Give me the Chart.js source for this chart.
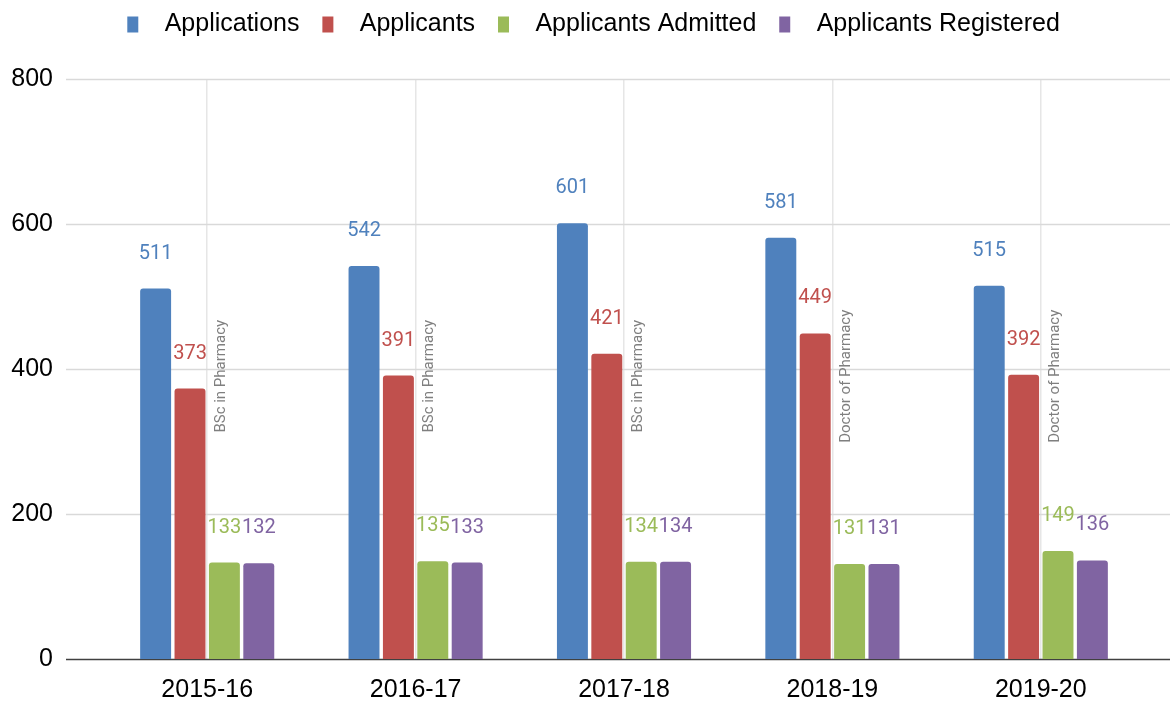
<!DOCTYPE html>
<html>
<head>
<meta charset="utf-8">
<script src="https://cdn.jsdelivr.net/npm/chart.js@4/dist/chart.umd.min.js"></script>
<style>
  html, body { margin: 0; padding: 0; background: #fff; }
  #wrap { width: 1170px; height: 701px; }
</style>
</head>
<body>
<div id="wrap"><canvas id="graficoAdmissoes"></canvas></div>
<script>
// Dados
const anos = ['2015-16', '2016-17', '2017-18', '2018-19', '2019-20'];
const programas = ['BSc in Pharmacy', 'BSc in Pharmacy', 'BSc in Pharmacy', 'Doctor of Pharmacy', 'Doctor of Pharmacy'];
const applications = [511, 542, 601, 581, 515];
const applicants = [373, 391, 421, 449, 392];
const admitted = [133, 135, 134, 131, 149];
const registered = [132, 133, 134, 131, 136];
const yTicks = [0, 200, 400, 600, 800];

const cores = ['#4F81BD', '#C0504D', '#9BBB59', '#8064A2'];

// Linhas horizontais que passam da área do gráfico, eixo zero e rótulos
const extras = {
  id: 'extras',
  beforeLayout(chart) {
    // mais espaço entre a legenda e a área do gráfico
    const lg = chart.legend;
    if (lg && !lg._espaco) {
      const fitOriginal = lg.fit.bind(lg);
      lg.fit = function () { fitOriginal(); this.height += 32; };
      lg._espaco = true;
    }
  },
  afterLayout(chart) {
    // legenda um pouco para a direita, como no original
    chart.legend.left += 28;
    chart.legend.right += 28;
  },
  beforeDatasetsDraw(chart) {
    const ctx = chart.ctx;
    const y = chart.scales.y;
    ctx.save();
    yTicks.forEach(v => {
      const py = Math.round(y.getPixelForValue(v)) + 0.5;
      ctx.strokeStyle = v === 0 ? '#404040' : '#d9d9d9';
      ctx.lineWidth = 1.5;
      ctx.beginPath();
      ctx.moveTo(66, py);
      ctx.lineTo(chart.width, py);
      ctx.stroke();
    });
    ctx.restore();
  },
  afterDatasetsDraw(chart) {
    const ctx = chart.ctx;
    const x = chart.scales.x;
    const y = chart.scales.y;
    ctx.save();
    // valores acima das barras
    ctx.font = '20px Roboto';
    ctx.textAlign = 'center';
    ctx.textBaseline = 'middle';
    chart.data.datasets.forEach((ds, i) => {
      const meta = chart.getDatasetMeta(i);
      meta.data.forEach((bar, j) => {
        ctx.fillStyle = ds.backgroundColor;
        ctx.fillText(String(ds.data[j]), bar.x, bar.y - 35);
      });
    });
    // nome do programa, texto vertical
    ctx.font = '15px Roboto';
    ctx.fillStyle = '#7f7f7f';
    programas.forEach((p, j) => {
      ctx.save();
      ctx.translate(x.getPixelForValue(j) + 14, y.getPixelForValue(390));
      ctx.rotate(-Math.PI / 2);
      ctx.fillText(p, 0, 0);
      ctx.restore();
    });
    ctx.restore();
  }
};

const dados = {
  labels: anos,
  datasets: [
    { label: 'Applications', data: applications },
    { label: 'Applicants', data: applicants },
    { label: 'Applicants Admitted', data: admitted },
    { label: 'Applicants Registered', data: registered }
  ].map((d, i) => Object.assign(d, {
    backgroundColor: cores[i],
    borderRadius: { topLeft: 3, topRight: 3 },
    borderSkipped: 'bottom',
    barPercentage: 0.9,
    categoryPercentage: 0.66
  }))
};

new Chart(document.getElementById('graficoAdmissoes'), {
  type: 'bar',
  data: dados,
  options: {
    responsive: true,
    maintainAspectRatio: false,
    animation: false,
    layout: { padding: { left: 0, right: 25, top: 3, bottom: 0 } },
    plugins: {
      legend: {
        position: 'top',
        labels: {
          font: { family: 'Liberation Sans', size: 25 },
          color: '#000',
          boxWidth: 11,
          boxHeight: 16,
          padding: 9,
          // espaços para afastar o texto do quadradinho
          generateLabels(chart) {
            const base = Chart.defaults.plugins.legend.labels.generateLabels(chart);
            return base.map(it => Object.assign(it, { text: '  ' + it.text + '  ' }));
          }
        }
      },
      tooltip: { enabled: false }
    },
    scales: {
      x: {
        afterFit(scale) { scale.height = 42; },
        grid: { offset: false, color: '#e6e6e6', lineWidth: 1.5, drawTicks: false },
        border: { display: false },
        ticks: { font: { family: 'Liberation Sans', size: 25 }, color: '#000', padding: 16 }
      },
      y: {
        min: 0,
        max: 800,
        afterFit(scale) {
          scale.width = 103;
          scale.paddingTop = 0;
          scale.paddingBottom = 0;
        },
        grid: { display: false, drawTicks: false },
        border: { display: false },
        ticks: {
          stepSize: 200,
          padding: 50,
          font: { family: 'Liberation Sans', size: 25 },
          color: '#000'
        }
      }
    }
  },
  plugins: [extras]
});
</script>
</body>
</html>
